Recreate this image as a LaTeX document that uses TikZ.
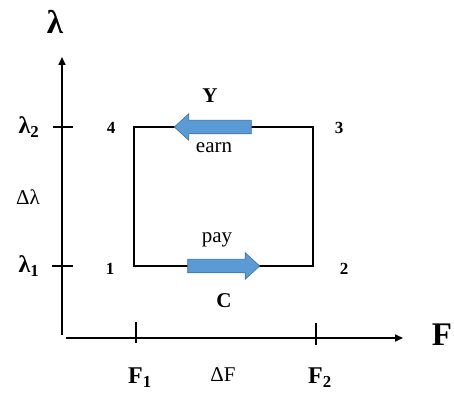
\documentclass[tikz,border=0pt]{standalone}
\usepackage{fontspec}
\setmainfont{Liberation Serif}
\usepackage{tikz}
\usetikzlibrary{positioning, arrows.meta, shapes.arrows, calc}
\definecolor{flowfill}{HTML}{5B9BD5}
\definecolor{flowedge}{HTML}{41719C}
\tikzset{
  axis/.style    = {line width=1.6pt, -{Triangle[length=8pt,width=7pt]}},
  tickmark/.style= {line width=1.2pt},
  cycleline/.style = {line width=1.6pt, line join=miter},
  flow/.style    = {single arrow, fill=flowfill, draw=flowedge, line width=0.6pt,
                    inner xsep=0pt, inner ysep=6.5pt, single arrow head extend=6.5pt,
                    single arrow head indent=0pt, single arrow tip angle=85},
  axlbl/.style   = {font=\bfseries\fontsize{33}{33}\selectfont, inner sep=0pt},
  ticklbl/.style = {font=\bfseries\fontsize{24}{24}\selectfont, inner sep=0pt},
  dlbl/.style    = {font=\fontsize{21}{21}\selectfont, inner sep=0pt},
  num/.style     = {font=\bfseries\fontsize{17}{17}\selectfont, inner sep=0pt},
  flowlbl/.style = {font=\fontsize{21}{21}\selectfont, inner sep=0pt},
  cashlbl/.style = {font=\bfseries\fontsize{21}{21}\selectfont, inner sep=0pt},
}

\begin{document}
\begin{tikzpicture}[x=1pt, y=1pt]
  \useasboundingbox (0,0) rectangle (454,395);

  % axes
  \coordinate (ybot) at (62,60);
  \coordinate (ytop) at (62,338);
  \coordinate (xleft) at (66,57);
  \coordinate (xright) at (403,57);
  \draw[axis] (ybot) -- (ytop);
  \draw[axis] (xleft) -- (xright);

  % ticks
  \coordinate (tl2) at (62,268);
  \coordinate (tl1) at (62,129);
  \coordinate (tf1) at (136,57);
  \coordinate (tf2) at (316,57);
  \draw[tickmark] ($(tl2)+(-9,0)$) -- ($(tl2)+(11,0)$);
  \draw[tickmark] ($(tl1)+(-10,0)$) -- ($(tl1)+(11,0)$);
  \draw[tickmark] ($(tf1)+(0,16)$) -- ($(tf1)+(0,-5)$);
  \draw[tickmark] ($(tf2)+(0,15)$) -- ($(tf2)+(0,-7)$);

  % cycle 1-2-3-4
  \coordinate (c1) at (134,129);
  \coordinate (c2) at (313,129);
  \coordinate (c3) at (313,268);
  \coordinate (c4) at (134,268);
  \draw[cycleline] (c1) -- (c2) -- (c3) -- (c4) -- cycle;

  % flows
  \node[flow, minimum height=77pt, shape border rotate=180] (earnarr) at (216.5,268) {};
  \node[flow, minimum height=72pt] (payarr) at (220,129) {};

  % labels
  \node[axlbl] (lam) at (55,373) {λ};
  \node[axlbl] (eff) at (442,60) {F};
  \node[ticklbl] (lam2) at (29,268) {λ\textsubscript{2}};
  \node[ticklbl] (lam1) at (29,129) {λ\textsubscript{1}};
  \node[dlbl] (dlam) at (28,198) {Δλ};
  \node[ticklbl] (eff1) at (140,17) {F\textsubscript{1}};
  \node[ticklbl] (eff2) at (320,17) {F\textsubscript{2}};
  \node[dlbl] (deff) at (223,20) {ΔF};
  \node[num] (n1) at (110,126) {1};
  \node[num] (n2) at (344,126) {2};
  \node[num] (n3) at (339,267) {3};
  \node[num] (n4) at (111,267) {4};
  \node[cashlbl] (y) at (210,299) {Y};
  \node[flowlbl] (earn) at (214,247) {earn};
  \node[flowlbl] (pay) at (217,155) {pay};
  \node[cashlbl] (c) at (224,94) {C};
\end{tikzpicture}
\end{document}
